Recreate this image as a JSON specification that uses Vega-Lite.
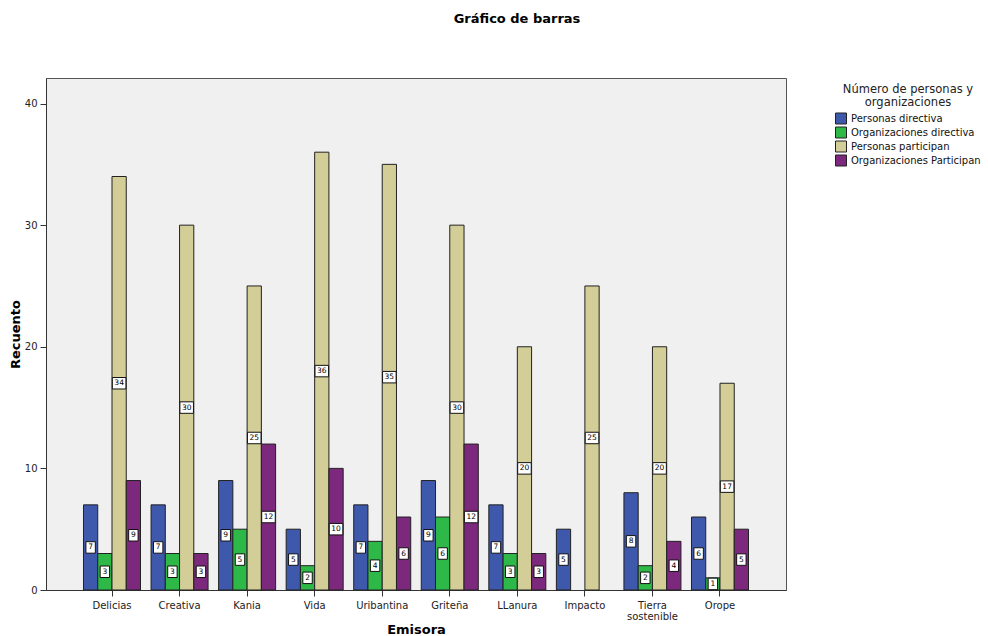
{
  "$schema": "https://vega.github.io/schema/vega-lite/v6.json",
  "autosize": {"type": "none"},
  "padding": {"left": 46, "top": 78, "right": 202, "bottom": 46},
  "width": 740,
  "height": 512,
  "background": "white",
  "title": {
    "text": "Gráfico de barras",
    "font": "DejaVu Sans",
    "fontSize": 13,
    "fontWeight": "bold",
    "color": "#000000",
    "anchor": "middle",
    "frame": "group",
    "dx": 101,
    "offset": 52
  },
  "config": {
    "view": {"fill": "#F0F0F0", "stroke": "#555555", "strokeWidth": 1},
    "font": "DejaVu Sans"
  },
  "data": {
    "values": [
      {"emisora": "Delicias", "serie": "Personas directiva", "valor": 7},
      {"emisora": "Delicias", "serie": "Organizaciones directiva", "valor": 3},
      {"emisora": "Delicias", "serie": "Personas participan", "valor": 34},
      {"emisora": "Delicias", "serie": "Organizaciones Participan", "valor": 9},
      {"emisora": "Creativa", "serie": "Personas directiva", "valor": 7},
      {"emisora": "Creativa", "serie": "Organizaciones directiva", "valor": 3},
      {"emisora": "Creativa", "serie": "Personas participan", "valor": 30},
      {"emisora": "Creativa", "serie": "Organizaciones Participan", "valor": 3},
      {"emisora": "Kania", "serie": "Personas directiva", "valor": 9},
      {"emisora": "Kania", "serie": "Organizaciones directiva", "valor": 5},
      {"emisora": "Kania", "serie": "Personas participan", "valor": 25},
      {"emisora": "Kania", "serie": "Organizaciones Participan", "valor": 12},
      {"emisora": "Vida", "serie": "Personas directiva", "valor": 5},
      {"emisora": "Vida", "serie": "Organizaciones directiva", "valor": 2},
      {"emisora": "Vida", "serie": "Personas participan", "valor": 36},
      {"emisora": "Vida", "serie": "Organizaciones Participan", "valor": 10},
      {"emisora": "Uribantina", "serie": "Personas directiva", "valor": 7},
      {"emisora": "Uribantina", "serie": "Organizaciones directiva", "valor": 4},
      {"emisora": "Uribantina", "serie": "Personas participan", "valor": 35},
      {"emisora": "Uribantina", "serie": "Organizaciones Participan", "valor": 6},
      {"emisora": "Griteña", "serie": "Personas directiva", "valor": 9},
      {"emisora": "Griteña", "serie": "Organizaciones directiva", "valor": 6},
      {"emisora": "Griteña", "serie": "Personas participan", "valor": 30},
      {"emisora": "Griteña", "serie": "Organizaciones Participan", "valor": 12},
      {"emisora": "LLanura", "serie": "Personas directiva", "valor": 7},
      {"emisora": "LLanura", "serie": "Organizaciones directiva", "valor": 3},
      {"emisora": "LLanura", "serie": "Personas participan", "valor": 20},
      {"emisora": "LLanura", "serie": "Organizaciones Participan", "valor": 3},
      {"emisora": "Impacto", "serie": "Personas directiva", "valor": 5},
      {"emisora": "Impacto", "serie": "Personas participan", "valor": 25},
      {"emisora": "Tierra sostenible", "serie": "Personas directiva", "valor": 8},
      {"emisora": "Tierra sostenible", "serie": "Organizaciones directiva", "valor": 2},
      {"emisora": "Tierra sostenible", "serie": "Personas participan", "valor": 20},
      {"emisora": "Tierra sostenible", "serie": "Organizaciones Participan", "valor": 4},
      {"emisora": "Orope", "serie": "Personas directiva", "valor": 6},
      {"emisora": "Orope", "serie": "Organizaciones directiva", "valor": 1},
      {"emisora": "Orope", "serie": "Personas participan", "valor": 17},
      {"emisora": "Orope", "serie": "Organizaciones Participan", "valor": 5}
    ]
  },
  "transform": [{"calculate": "datum.valor / 2", "as": "mid"}],
  "encoding": {
    "x": {
      "field": "emisora",
      "type": "nominal",
      "sort": ["Delicias", "Creativa", "Kania", "Vida", "Uribantina", "Griteña", "LLanura", "Impacto", "Tierra sostenible", "Orope"],
      "scale": {"paddingInner": 0.156, "paddingOuter": 0.555},
      "axis": {
        "title": "Emisora",
        "titleFont": "DejaVu Sans",
        "titleFontSize": 13,
        "titleFontWeight": "bold",
        "titleColor": "#000000",
        "titleY": 33,
        "titleBaseline": "top",
        "labelAngle": 0,
        "labelFont": "DejaVu Sans",
        "labelFontSize": 10,
        "labelColor": "#222222",
        "labelPadding": 4,
        "labelLineHeight": 11,
        "labelExpr": "datum.label == 'Tierra sostenible' ? ['Tierra', 'sostenible'] : datum.label",
        "domainColor": "#333333",
        "tickColor": "#333333",
        "tickSize": 6
      }
    },
    "xOffset": {
      "field": "serie",
      "type": "nominal",
      "scale": {"domain": ["Personas directiva", "Organizaciones directiva", "Personas participan", "Organizaciones Participan"], "paddingInner": 0, "paddingOuter": 0}
    }
  },
  "layer": [
    {
      "mark": {"type": "bar", "stroke": "#222222", "strokeWidth": 1},
      "encoding": {
        "y": {
          "field": "valor",
          "type": "quantitative",
          "scale": {"domain": [0, 42.1], "nice": false},
          "axis": {
            "title": "Recuento",
            "titleFont": "DejaVu Sans",
            "titleFontSize": 13,
            "titleFontWeight": "bold",
            "titleColor": "#000000",
            "titlePadding": 2,
            "values": [0, 10, 20, 30, 40],
            "grid": false,
            "labelFont": "DejaVu Sans",
            "labelFontSize": 10,
            "labelColor": "#222222",
            "labelPadding": 3,
            "domainColor": "#333333",
            "tickColor": "#333333",
            "tickSize": 6
          }
        },
        "color": {
          "field": "serie",
          "type": "nominal",
          "scale": {
            "domain": ["Personas directiva", "Organizaciones directiva", "Personas participan", "Organizaciones Participan"],
            "range": ["#3E58AC", "#2EB848", "#D3CE97", "#7C287D"]
          },
          "legend": {
            "title": ["Número de personas y", "organizaciones"],
            "orient": "none",
            "legendX": 789,
            "legendY": 6,
            "titleFont": "DejaVu Sans",
            "titleFontSize": 11.5,
            "titleFontWeight": "normal",
            "titleColor": "#222222",
            "titleLineHeight": 13,
            "titleAnchor": "middle",
            "titleAlign": "center",
            "titlePadding": 4,
            "labelFont": "DejaVu Sans",
            "labelFontSize": 10,
            "labelColor": "#111111",
            "labelOffset": 4,
            "symbolType": "square",
            "symbolSize": 121,
            "symbolStrokeColor": "#222222",
            "symbolStrokeWidth": 1,
            "rowPadding": -2.3
          }
        }
      }
    },
    {
      "transform": [{"filter": "datum.valor < 10"}],
      "mark": {"type": "point", "shape": "M-0.82,-1H0.82V1H-0.82Z", "filled": true, "fill": "white", "stroke": "#111111", "strokeWidth": 1, "opacity": 1, "size": 132},
      "encoding": {"y": {"field": "mid", "type": "quantitative"}}
    },
    {
      "transform": [{"filter": "datum.valor >= 10"}],
      "mark": {"type": "point", "shape": "M-1.18,-1H1.18V1H-1.18Z", "filled": true, "fill": "white", "stroke": "#111111", "strokeWidth": 1, "opacity": 1, "size": 132},
      "encoding": {"y": {"field": "mid", "type": "quantitative"}}
    },
    {
      "mark": {"type": "text", "font": "DejaVu Sans", "fontSize": 7.5, "color": "#000000", "baseline": "middle", "align": "center"},
      "encoding": {
        "y": {"field": "mid", "type": "quantitative"},
        "text": {"field": "valor", "type": "quantitative"}
      }
    }
  ]
}
